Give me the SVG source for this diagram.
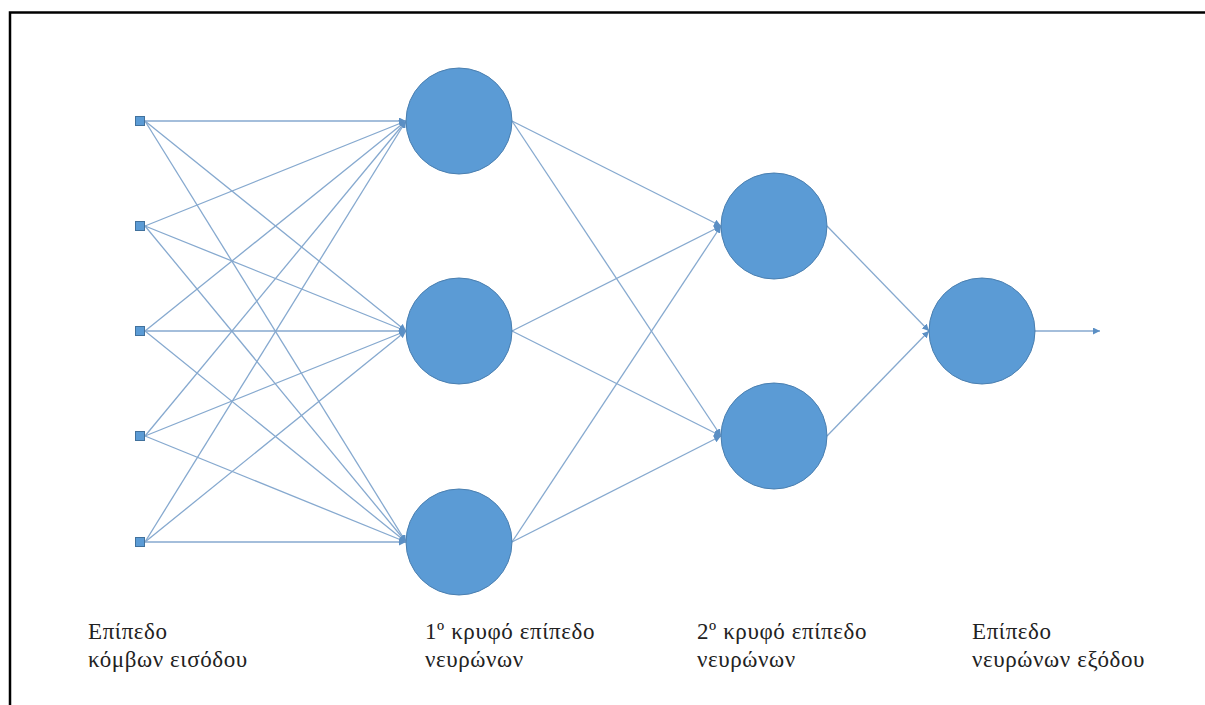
<svg xmlns="http://www.w3.org/2000/svg" width="1205" height="705" viewBox="0 0 1205 705">
<style>
.bg{fill:#ffffff}
.frame{fill:none;stroke:#000;stroke-width:2.5}
.edge{stroke:#86a9cf;stroke-width:1.3;fill:none;marker-end:url(#arr)}
.inp{fill:#5b9bd5;stroke:#41719c;stroke-width:1}
.neu{fill:#5b9bd5;stroke:#4a7fb0;stroke-width:1}
.lbl{font-family:"Liberation Serif","Times New Roman",serif;font-size:23px;letter-spacing:0.6px;fill:#222}
</style>
<defs>
<marker id="arr" viewBox="0 0 10 10" refX="10" refY="5" markerWidth="7" markerHeight="7" markerUnits="userSpaceOnUse" orient="auto">
<path d="M0,0 L10,5 L0,10 z" fill="#5b8fc4"/>
</marker>
</defs>
<rect class="bg" x="0" y="0" width="1205" height="705"/>
<rect class="frame" x="10" y="12.5" width="1220" height="720"/>
<g id="connectors">
<line class="edge" x1="145" y1="121" x2="406" y2="121"/>
<line class="edge" x1="145" y1="121" x2="406" y2="331"/>
<line class="edge" x1="145" y1="121" x2="406" y2="542"/>
<line class="edge" x1="145" y1="226" x2="406" y2="121"/>
<line class="edge" x1="145" y1="226" x2="406" y2="331"/>
<line class="edge" x1="145" y1="226" x2="406" y2="542"/>
<line class="edge" x1="145" y1="331" x2="406" y2="121"/>
<line class="edge" x1="145" y1="331" x2="406" y2="331"/>
<line class="edge" x1="145" y1="331" x2="406" y2="542"/>
<line class="edge" x1="145" y1="436" x2="406" y2="121"/>
<line class="edge" x1="145" y1="436" x2="406" y2="331"/>
<line class="edge" x1="145" y1="436" x2="406" y2="542"/>
<line class="edge" x1="145" y1="542" x2="406" y2="121"/>
<line class="edge" x1="145" y1="542" x2="406" y2="331"/>
<line class="edge" x1="145" y1="542" x2="406" y2="542"/>
<line class="edge" x1="512" y1="121" x2="721" y2="226"/>
<line class="edge" x1="512" y1="121" x2="721" y2="436"/>
<line class="edge" x1="512" y1="331" x2="721" y2="226"/>
<line class="edge" x1="512" y1="331" x2="721" y2="436"/>
<line class="edge" x1="512" y1="542" x2="721" y2="226"/>
<line class="edge" x1="512" y1="542" x2="721" y2="436"/>
<line class="edge" x1="827" y1="226" x2="929" y2="331"/>
<line class="edge" x1="827" y1="436" x2="929" y2="331"/>
<line class="edge" x1="1035" y1="331" x2="1100" y2="331"/>
</g>
<g id="in1"><rect class="inp" x="135.5" y="116.5" width="9" height="9"/></g>
<g id="in2"><rect class="inp" x="135.5" y="221.5" width="9" height="9"/></g>
<g id="in3"><rect class="inp" x="135.5" y="326.5" width="9" height="9"/></g>
<g id="in4"><rect class="inp" x="135.5" y="431.5" width="9" height="9"/></g>
<g id="in5"><rect class="inp" x="135.5" y="537.5" width="9" height="9"/></g>
<g id="h1a"><circle class="neu" cx="459" cy="121" r="53"/></g>
<g id="h1b"><circle class="neu" cx="459" cy="331" r="53"/></g>
<g id="h1c"><circle class="neu" cx="459" cy="542" r="53"/></g>
<g id="h2a"><circle class="neu" cx="774" cy="226" r="53"/></g>
<g id="h2b"><circle class="neu" cx="774" cy="436" r="53"/></g>
<g id="out"><circle class="neu" cx="982" cy="331" r="53"/></g>
<g id="labels">
<text class="lbl" x="88" y="639">Επίπεδο</text>
<text class="lbl" x="88" y="667">κόμβων εισόδου</text>
<text class="lbl" x="425" y="639">1º κρυφό επίπεδο</text>
<text class="lbl" x="425" y="667">νευρώνων</text>
<text class="lbl" x="697" y="639">2º κρυφό επίπεδο</text>
<text class="lbl" x="697" y="667">νευρώνων</text>
<text class="lbl" x="972" y="639">Επίπεδο</text>
<text class="lbl" x="972" y="667">νευρώνων εξόδου</text>
</g>
</svg>
